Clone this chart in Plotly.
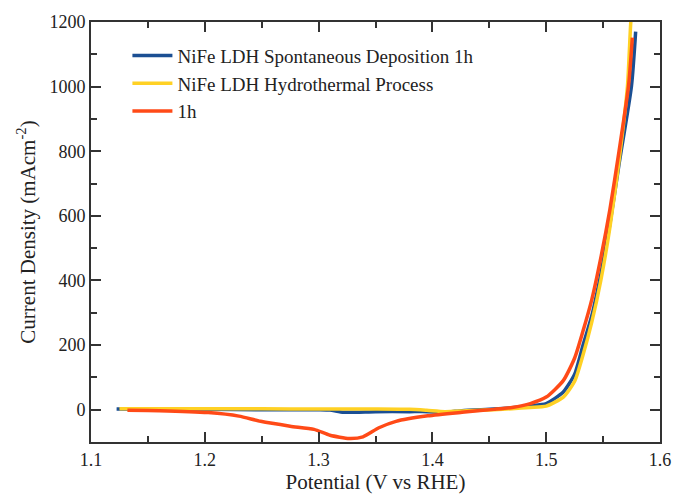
import plotly.graph_objects as go

# Blue: NiFe LDH Spontaneous Deposition 1h
blue_x = [1.1225, 1.15, 1.20, 1.25, 1.30, 1.31, 1.322, 1.35, 1.38, 1.396, 1.411, 1.426,
          1.454, 1.47, 1.486, 1.500, 1.515, 1.525, 1.5324, 1.540, 1.548, 1.556, 1.564,
          1.5749, 1.5786]
blue_y = [2, 1, 1, 0, 0, -1, -8, -6, -6, -6, -8, -3,
          2, 6, 12, 19, 55, 110, 200, 290, 420, 575, 760,
          1001, 1170]

# Yellow: NiFe LDH Hydrothermal Process
yellow_x = [1.125, 1.15, 1.20, 1.25, 1.30, 1.35, 1.38, 1.395, 1.411, 1.43, 1.454,
            1.47, 1.486, 1.500, 1.515, 1.525, 1.5324, 1.540, 1.548, 1.556, 1.564,
            1.5714, 1.5743, 1.5755]
yellow_y = [3, 3, 3, 3, 2, 2, 1, -2, -6, -3, 0,
            3, 7, 11, 39, 88, 170, 270, 400, 565, 770,
            1001, 1197, 1240]

# Red: 1h
red_x = [1.132, 1.16, 1.203, 1.23, 1.249, 1.275, 1.296, 1.31, 1.327, 1.339, 1.353,
         1.368, 1.396, 1.426, 1.454, 1.47, 1.486, 1.500, 1.515, 1.525, 1.5324,
         1.540, 1.548, 1.556, 1.564, 1.5723, 1.5757]
red_y = [-2, -3, -9, -20, -36, -51, -61, -79, -89, -84, -56,
         -36, -19, -8, 1, 7, 19, 39, 90, 160, 244,
         340, 470, 620, 800, 1001, 1152]

names = ["NiFe LDH Spontaneous Deposition 1h", "NiFe LDH Hydrothermal Process", "1h"]
colors = ["#1B4F93", "#FFD124", "#FF4A17"]

x_ticks = [1.1, 1.2, 1.3, 1.4, 1.5, 1.6]
y_ticks = [0, 200, 400, 600, 800, 1000, 1200]

fig = go.Figure()
for xs, ys, nm, c in [(blue_x, blue_y, names[0], colors[0]),
                      (yellow_x, yellow_y, names[1], colors[1]),
                      (red_x, red_y, names[2], colors[2])]:
    fig.add_trace(go.Scatter(x=xs, y=ys, mode="lines", name=nm,
                             line=dict(color=c, width=3.5, shape="spline", smoothing=0.6)))

font_family = "Liberation Serif, Times New Roman, serif"
axis_common = dict(
    showgrid=False, zeroline=False, showline=True, linecolor="#333333", linewidth=2,
    mirror="ticks", ticks="inside", ticklen=10, tickwidth=1.5, tickcolor="#333333",
    tickfont=dict(family=font_family, size=18, color="#222222"),
    minor=dict(ticks="inside", ticklen=6, tickwidth=1.5, tickcolor="#333333"),
)

fig.update_xaxes(range=[1.1, 1.6], tickvals=x_ticks, ticktext=[f"{v:.1f}" for v in x_ticks],
                 minor_dtick=0.05, minor_tick0=1.1,
                 title=dict(text="Potential (V vs RHE)",
                            font=dict(family=font_family, size=21, color="#222222"), standoff=6),
                 **axis_common)
fig.update_yaxes(range=[-100, 1200], tickvals=y_ticks, ticktext=[str(v) for v in y_ticks],
                 minor_dtick=100, minor_tick0=0,
                 title=dict(text="Current Density (mAcm<sup>-2</sup>)",
                            font=dict(family=font_family, size=21, color="#222222"), standoff=8),
                 **axis_common)

fig.update_layout(
    width=683, height=502,
    margin=dict(l=91, r=15, t=14, b=56),
    plot_bgcolor="white", paper_bgcolor="white",
    showlegend=True,
    legend=dict(x=0.064, y=0.965, xanchor="left", yanchor="top",
                font=dict(family=font_family, size=19, color="#222222"),
                bgcolor="rgba(0,0,0,0)", tracegroupgap=0, itemwidth=40),
)

fig.write_html("out.html")
